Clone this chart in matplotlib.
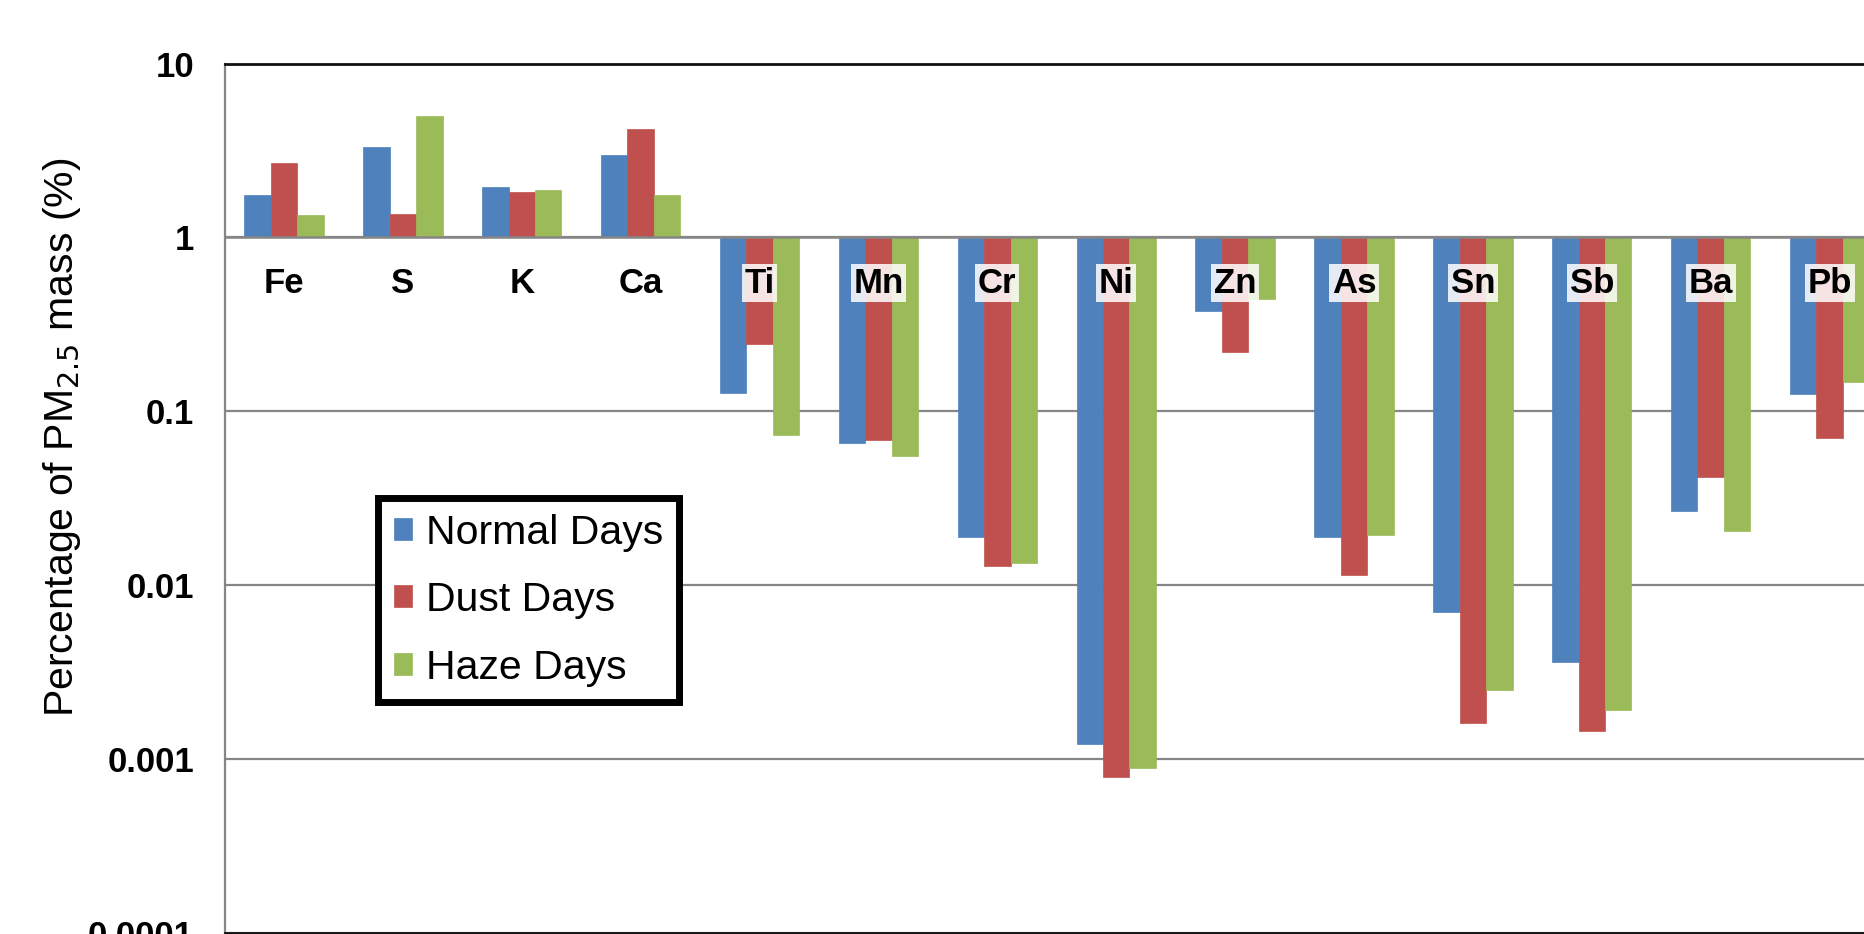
import numpy as np
import matplotlib
matplotlib.use("Agg")
import matplotlib.pyplot as plt

plt.rcParams['font.family'] = ['Liberation Sans', 'DejaVu Sans']

# element mass fractions of PM2.5 (%)
elements = ["Fe", "S", "K", "Ca", "Ti", "Mn", "Cr", "Ni", "Zn", "As", "Sn", "Sb", "Ba", "Pb"]
normal_days = [1.76, 3.32, 1.94, 2.97, 0.127, 0.0653, 0.0189, 0.00122, 0.376, 0.0189, 0.0070, 0.00362, 0.0266, 0.125]
dust_days = [2.66, 1.37, 1.82, 4.2, 0.242, 0.0685, 0.0129, 0.00078, 0.22, 0.0114, 0.00161, 0.00145, 0.042, 0.0696]
haze_days = [1.35, 5.0, 1.88, 1.76, 0.073, 0.0555, 0.0133, 0.00088, 0.44, 0.0194, 0.00247, 0.0019, 0.0205, 0.148]

series = [("Normal Days", normal_days, "#4F81BD"),
          ("Dust Days", dust_days, "#C0504D"),
          ("Haze Days", haze_days, "#9BBB59")]

fig = plt.figure(figsize=(18.64, 9.34), dpi=100)
# plot area runs a little past the right edge of the figure
ax = fig.add_axes([0.1205, 0.0016, 0.8929, 0.9304])

x = np.arange(len(elements))
w = 1 / 4.5
for k, (name, vals, col) in enumerate(series):
    vals = np.array(vals)
    ax.bar(x + (k - 1) * w, vals - 1, bottom=1, width=w, color=col,
           edgecolor=col, linewidth=0.5, label=name, zorder=3)

ax.set_yscale('log')
ax.set_ylim(1e-4, 10)
ax.set_xlim(-0.5, len(elements) - 0.5)

ax.set_yticks([1e-4, 1e-3, 1e-2, 0.1, 1, 10])
ax.set_yticklabels(["0.0001", "0.001", "0.01", "0.1", "1", "10"],
                   fontsize=25, fontweight='bold')
ax.yaxis.set_minor_locator(matplotlib.ticker.NullLocator())
ax.tick_params(axis='y', length=0, pad=22)
ax.set_xticks([])

ax.grid(axis='y', color='#868686', linewidth=1.6, zorder=1)
ax.axhline(1, color='#868686', linewidth=1.8, zorder=4)

for side in ['top', 'bottom']:
    ax.spines[side].set_color('#111111')
    ax.spines[side].set_linewidth(2)
ax.spines['left'].set_color('#868686')
ax.spines['left'].set_linewidth(1.6)
ax.spines['right'].set_visible(False)

# element names sit just under the y=1 axis line
for i, el in enumerate(elements):
    ax.annotate(el, xy=(i, 1), xytext=(0, -33), textcoords='offset points',
                ha='center', va='center', fontsize=25, fontweight='bold',
                zorder=5,
                bbox=dict(boxstyle='square,pad=0.08', fc='white', ec='none', alpha=0.85))

ax.set_ylabel("Percentage of PM$_{2.5}$ mass (%)", fontsize=29.5)
ax.yaxis.set_label_coords(-0.085, 0.57)

leg = ax.legend(loc='upper left', bbox_to_anchor=(0.2028, 0.4668),
                bbox_transform=fig.transFigure, fontsize=29.5, frameon=True,
                fancybox=False, framealpha=1, handlelength=0.45, handleheight=0.45,
                handletextpad=0.35, labelspacing=0.72, borderpad=0.38,
                borderaxespad=0)
leg.get_frame().set_edgecolor('black')
leg.get_frame().set_linewidth(5)
leg.set_zorder(6)

fig.savefig("out.png", dpi=100)
